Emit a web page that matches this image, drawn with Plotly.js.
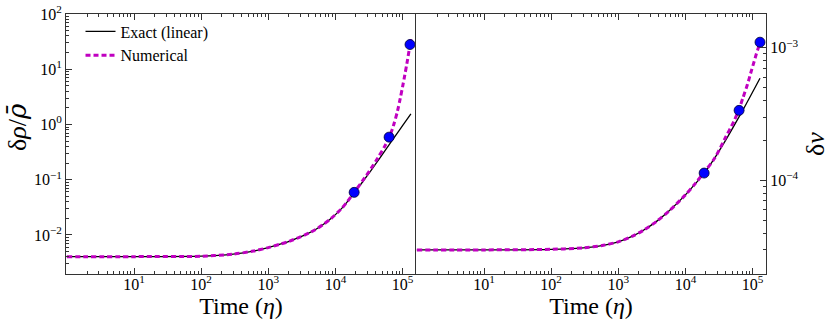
<!DOCTYPE html>
<html>
<head>
<meta charset="utf-8">
<script src="https://cdn.plot.ly/plotly-3.0.1.min.js"></script>
<style>html,body{margin:0;padding:0;background:#fff;}#chart{width:830px;height:323px;}</style>
</head>
<body>
<div id="chart"></div>
<script>
// ---- data ----
const xExactL = [1, 10, 100, 300, 600, 1000, 1500, 2000, 3000, 4000, 5000, 6500, 8600, 12000, 15000, 19000, 25000, 34000, 45000, 64000, 80000, 100000, 133000];
const yExactL = [0.00405, 0.00405, 0.00412, 0.0045, 0.0051, 0.0059, 0.0068, 0.0076, 0.0092, 0.0108, 0.01245, 0.0153, 0.0198, 0.029, 0.0397, 0.0573, 0.089, 0.148, 0.239, 0.441, 0.649, 0.952, 1.55];
const xNumL = [1, 10, 100, 300, 600, 1000, 1500, 2000, 3000, 4000, 5000, 6500, 8600, 12000, 15000, 19000, 25000, 34000, 43000, 54000, 64000, 74000, 84000, 92000, 100000, 108000, 116000, 125000, 133000];
const yNumL = [0.00405, 0.00405, 0.00412, 0.0045, 0.0051, 0.0059, 0.0068, 0.0076, 0.0092, 0.0108, 0.01245, 0.0153, 0.0198, 0.029, 0.0399, 0.059, 0.093, 0.16, 0.25, 0.40, 0.60, 1.0, 1.75, 2.9, 4.8, 7.9, 12.7, 22, 35];

const xExactR = [1, 10, 100, 300, 600, 1000, 1600, 2400, 3800, 5900, 10000, 14000, 18700, 26000, 40000, 51000, 80000, 129000];
const yExactR = [2.99e-5, 2.99e-5, 3.02e-5, 3.1e-5, 3.24e-5, 3.44e-5, 3.78e-5, 4.22e-5, 4.95e-5, 5.97e-5, 7.77e-5, 9.41e-5, 1.12e-4, 1.42e-4, 2.02e-4, 2.5e-4, 3.75e-4, 5.88e-4];
const xNumR = [1, 10, 100, 300, 600, 1000, 1600, 2400, 3800, 5900, 10000, 14000, 18700, 27500, 40000, 52000, 62000, 72000, 84000, 96000, 105000, 114000, 122000, 129000];
const yNumR = [2.99e-5, 2.99e-5, 3.02e-5, 3.1e-5, 3.24e-5, 3.44e-5, 3.78e-5, 4.22e-5, 4.95e-5, 5.97e-5, 7.77e-5, 9.45e-5, 1.14e-4, 1.48e-4, 2.13e-4, 2.75e-4, 3.37e-4, 4.2e-4, 5.3e-4, 6.7e-4, 7.8e-4, 9.0e-4, 1.0e-3, 1.1e-3];

const xPts = [19000, 63000, 129000];
const yPtsL = [0.059, 0.59, 28];
const yPtsR = [1.135e-4, 3.37e-4, 1.1e-3];

const xTickVals = [10, 100, 1000, 10000, 100000];
const xTickText = ['10<sup>1</sup>', '10<sup>2</sup>', '10<sup>3</sup>', '10<sup>4</sup>', '10<sup>5</sup>'];
const yTickValsL = [0.01, 0.1, 1, 10, 100];
const yTickTextL = ['10<sup>−2</sup>', '10<sup>−1</sup>', '10<sup>0</sup>', '10<sup>1</sup>', '10<sup>2</sup>'];
const yTickValsR = [1e-4, 1e-3];
const yTickTextR = ['10<sup>−4</sup>', '10<sup>−3</sup>'];

const legendNames = ['Exact (linear)', 'Numerical'];
const yTitleL = 'δ<i>ρ</i>/<span style="font-family:\'DejaVu Serif\'"><i>ρ̄</i></span>';
const yTitleR = 'δ<i>v</i>';
const xTitleText = 'Time (<i>η</i>)';

// ---- styling ----
const FONT = '"Liberation Serif"';
const MAG = '#c000c0';
function minors(lo, hi) {
  const v = [];
  for (let p = lo; p <= hi; p++) for (let m = 2; m <= 9; m++) v.push(m * Math.pow(10, p));
  return v;
}
const axLine = {showline: true, linecolor: '#333', linewidth: 1, ticks: 'inside', ticklen: 6, tickwidth: 1,
  tickcolor: '#333', showgrid: false, zeroline: false, automargin: false,
  tickfont: {family: FONT, size: 16, color: '#000'}};

const traces = [
  {x: xExactL, y: yExactL, mode: 'lines', name: legendNames[0], line: {color: '#000', width: 1.3, shape: 'spline', smoothing: 0.8}, xaxis: 'x', yaxis: 'y'},
  {x: xNumL, y: yNumL, mode: 'lines', name: legendNames[1], line: {color: MAG, width: 3, dash: '5px,3px', shape: 'spline', smoothing: 0.8}, xaxis: 'x', yaxis: 'y'},
  {x: xPts, y: yPtsL, mode: 'markers', showlegend: false, marker: {color: '#0000ff', size: 10, line: {color: '#000033', width: 0.8}}, xaxis: 'x', yaxis: 'y'},
  {x: xExactR, y: yExactR, mode: 'lines', showlegend: false, line: {color: '#000', width: 1.3, shape: 'spline', smoothing: 0.8}, xaxis: 'x2', yaxis: 'y2'},
  {x: xNumR, y: yNumR, mode: 'lines', showlegend: false, line: {color: MAG, width: 3, dash: '5px,3px', shape: 'spline', smoothing: 0.8}, xaxis: 'x2', yaxis: 'y2'},
  {x: xPts, y: yPtsR, mode: 'markers', showlegend: false, marker: {color: '#0000ff', size: 10, line: {color: '#000033', width: 0.8}}, xaxis: 'x2', yaxis: 'y2'}
];

const xr = [-0.013, 5.2];
const xTitle = {text: xTitleText, font: {family: FONT, size: 24, color: '#000'}, standoff: 0};
const layout = {
  width: 830, height: 323,
  margin: {l: 0, r: 0, t: 0, b: 0},
  font: {family: FONT, color: '#000'},
  paper_bgcolor: '#fff', plot_bgcolor: '#fff',
  showlegend: true,
  legend: {x: 0.097, y: 0.955, xanchor: 'left', yanchor: 'top', bgcolor: 'rgba(0,0,0,0)', tracegroupgap: 0,
    font: {family: FONT, size: 16, color: '#000'}},
  xaxis: Object.assign({}, axLine, {type: 'log', range: xr, domain: [66/830, 416/830], anchor: 'y', mirror: 'ticks',
    tickmode: 'array', tickvals: xTickVals, ticktext: xTickText, ticklabelstandoff: -4,
    minor: {tickmode: 'array', tickvals: minors(0, 5), ticks: 'inside', ticklen: 3, tickcolor: '#333'},
    title: xTitle}),
  xaxis2: Object.assign({}, axLine, {type: 'log', range: xr, domain: [416/830, 766/830], anchor: 'y2', mirror: 'ticks',
    tickmode: 'array', tickvals: xTickVals, ticktext: xTickText, ticklabelstandoff: -4,
    minor: {tickmode: 'array', tickvals: minors(0, 5), ticks: 'inside', ticklen: 3, tickcolor: '#333'},
    title: xTitle}),
  yaxis: Object.assign({}, axLine, {type: 'log', range: [-2.707, 2], domain: [1 - 274/323, 1 - 14/323], anchor: 'x', mirror: false,
    tickmode: 'array', tickvals: yTickValsL, ticktext: yTickTextL,
    minor: {tickmode: 'array', tickvals: minors(-3, 1), ticks: 'inside', ticklen: 3, tickcolor: '#333'}}),
  yaxis2: Object.assign({}, axLine, {type: 'log', range: [-4.706, -2.746], domain: [1 - 274/323, 1 - 14/323], anchor: 'x2', side: 'right', mirror: true,
    tickmode: 'array', tickvals: yTickValsR, ticktext: yTickTextR,
    minor: {tickmode: 'array', tickvals: minors(-5, -3), ticks: 'inside', ticklen: 3, tickcolor: '#333'},
    title: {text: yTitleR, font: {family: FONT, size: 26, color: '#000'}}}),
  annotations: [
    {text: yTitleL, xref: 'paper', yref: 'paper', x: 17/830, y: 1 - 127/323, xanchor: 'center', yanchor: 'middle',
      textangle: -90, showarrow: false, font: {family: FONT, size: 26, color: '#000'}}
  ]
};

Plotly.newPlot('chart', traces, layout, {displayModeBar: false, staticPlot: true});
</script>
</body>
</html>
